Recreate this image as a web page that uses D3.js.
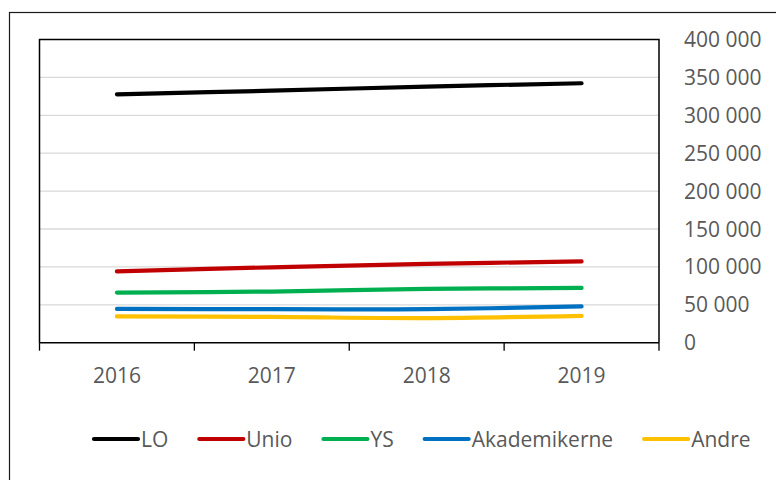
<!DOCTYPE html>
<html>
<head>
<meta charset="utf-8">
<script src="https://cdn.jsdelivr.net/npm/d3@7"></script>
<style>
  body { margin: 0; background: #fff; }
  svg { display: block; font-family: "Open Sans", sans-serif; }
</style>
</head>
<body>
<svg></svg>
<script>
const years = ['2016', '2017', '2018', '2019'];
const seriesNames = ['LO', 'Unio', 'YS', 'Akademikerne', 'Andre'];
const seriesColors = ['#000000', '#C00000', '#00B050', '#0070C0', '#FFC000'];
const lo = [327700, 332500, 337900, 342300];
const unio = [94100, 99500, 104000, 107200];
const ys = [66100, 67500, 71000, 72200];
const akademikerne = [44600, 44300, 44300, 47800];
const andre = [34600, 34000, 32500, 35400];
const yTicks = [0, 50000, 100000, 150000, 200000, 250000, 300000, 350000, 400000];

const size = {w: 776, h: 480};
const plot = {l: 39.5, t: 39.5, r: 659, b: 342.7};
const textColor = '#595959';
const fontSize = '21px';

const svg = d3.select('svg')
    .attr('width', size.w)
    .attr('height', size.h);

// outer chart frame (runs off the right and bottom edges)
svg.append('rect')
    .attr('x', 9.5).attr('y', 12.5)
    .attr('width', 800).attr('height', 500)
    .attr('fill', 'none')
    .attr('stroke', '#1a1a1a')
    .attr('stroke-width', 1.2);

const x = d3.scaleBand()
    .domain(years)
    .range([plot.l, plot.r]);

const y = d3.scaleLinear()
    .domain([0, 400000])
    .range([plot.b, plot.t]);

// gridlines
svg.append('g')
    .selectAll('line')
    .data(yTicks.filter(d => d > 0 && d < 400000))
    .enter()
    .append('line')
    .attr('x1', plot.l).attr('x2', plot.r)
    .attr('y1', d => y(d)).attr('y2', d => y(d))
    .attr('stroke', '#D9D9D9')
    .attr('stroke-width', 1.3);

// plot border: left, top, right
svg.append('path')
    .attr('d', `M${plot.l},${plot.b}V${plot.t}H${plot.r}V${plot.b}`)
    .attr('fill', 'none')
    .attr('stroke', '#000')
    .attr('stroke-width', 1.5);

// x axis with outside ticks at band edges
const xAxisG = svg.append('g');
xAxisG.append('line')
    .attr('x1', plot.l).attr('x2', plot.r)
    .attr('y1', plot.b).attr('y2', plot.b)
    .attr('stroke', '#000')
    .attr('stroke-width', 1.5);
xAxisG.selectAll('line.tick')
    .data(years.map(d => x(d)).concat([x(years[years.length - 1]) + x.bandwidth()]))
    .enter()
    .append('line')
    .attr('class', 'tick')
    .attr('x1', d => d).attr('x2', d => d)
    .attr('y1', plot.b).attr('y2', plot.b + 8)
    .attr('stroke', '#000')
    .attr('stroke-width', 1.3);
xAxisG.selectAll('text')
    .data(years)
    .enter()
    .append('text')
    .attr('x', d => x(d) + x.bandwidth() / 2)
    .attr('y', 383)
    .attr('text-anchor', 'middle')
    .attr('fill', textColor)
    .style('font-size', fontSize)
    .text(d => d);

// right-side y labels
const fmt = d => d3.format(',')(d).replace(/,/g, ' ');
svg.append('g')
    .selectAll('text')
    .data(yTicks)
    .enter()
    .append('text')
    .attr('x', 684)
    .attr('y', d => y(d))
    .attr('dy', '0.36em')
    .attr('fill', textColor)
    .style('font-size', fontSize)
    .text(d => fmt(d));

// lines
const allValues = [lo, unio, ys, akademikerne, andre];
const line = d3.line()
    .x((d, i) => x(years[i]) + x.bandwidth() / 2)
    .y(d => y(d))
    .curve(d3.curveCatmullRom.alpha(0.5));

svg.append('g')
    .selectAll('path')
    .data(allValues)
    .enter()
    .append('path')
    .attr('d', d => line(d))
    .attr('fill', 'none')
    .attr('stroke', (d, i) => seriesColors[i])
    .attr('stroke-width', 4.2)
    .attr('stroke-linecap', 'round');

// legend
const legendY = 439;
const lineLen = 44;
const gap = 31;
const legendG = svg.append('g');
const items = legendG.selectAll('g')
    .data(seriesNames)
    .enter()
    .append('g');
items.append('line')
    .attr('x1', 0).attr('x2', lineLen)
    .attr('y1', 0).attr('y2', 0)
    .attr('stroke', (d, i) => seriesColors[i])
    .attr('stroke-width', 4.2)
    .attr('stroke-linecap', 'round');
items.append('text')
    .attr('x', lineLen + 3)
    .attr('dy', '0.36em')
    .attr('fill', textColor)
    .style('font-size', fontSize)
    .text(d => d);

let cx = 94;
items.each(function () {
    d3.select(this).attr('transform', `translate(${cx},${legendY})`);
    const w = d3.select(this).select('text').node().getComputedTextLength();
    cx += lineLen + 3 + w + gap;
});
</script>
</body>
</html>
